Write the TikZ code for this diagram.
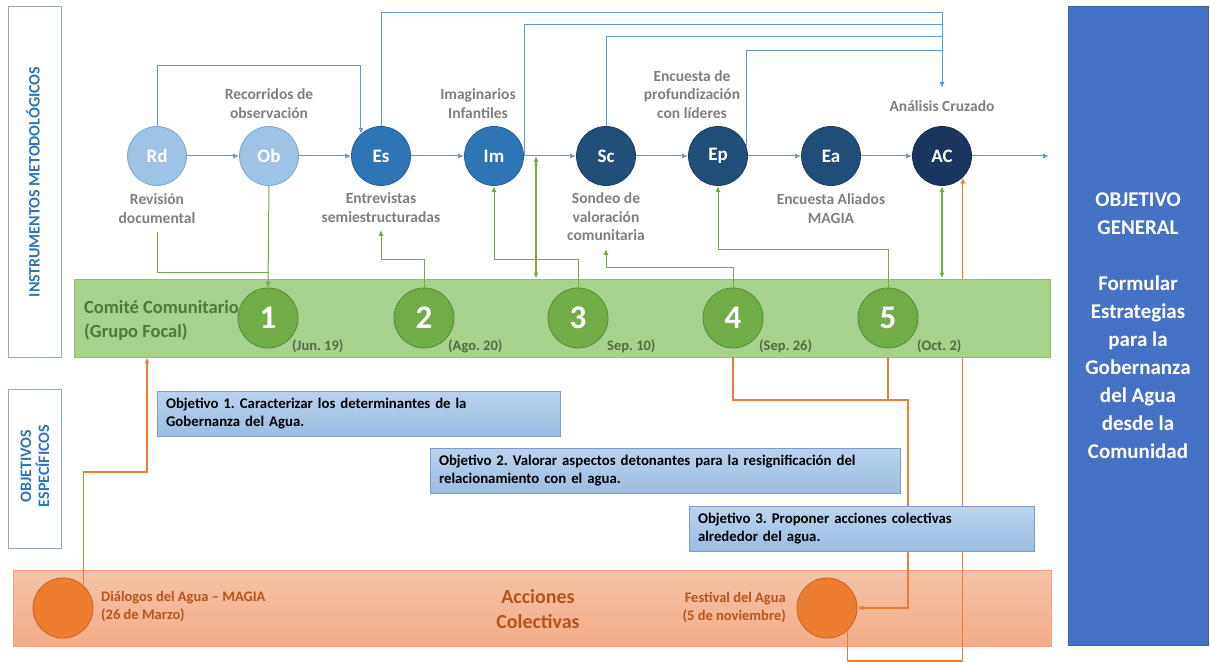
\documentclass[tikz,border=0pt]{standalone}
\usepackage{fontspec}
\setmainfont{Carlito}
\usetikzlibrary{arrows.meta}
\definecolor{cLine}{HTML}{5B9BD5}
\definecolor{cLight}{HTML}{9DC3E6}
\definecolor{cLightB}{HTML}{7FA8D2}
\definecolor{cMid}{HTML}{2E75B6}
\definecolor{cDark}{HTML}{1F4E79}
\definecolor{cNavy}{HTML}{1C355E}
\definecolor{cLbl}{HTML}{7F7F7F}
\definecolor{cGBand}{HTML}{A9D18E}
\definecolor{cGBandB}{HTML}{8CC06A}
\definecolor{cGCirc}{HTML}{70AD47}
\definecolor{cGCircB}{HTML}{558B35}
\definecolor{cGLine}{HTML}{70AD47}
\definecolor{cGText}{HTML}{4F7A32}
\definecolor{cDate}{HTML}{556B45}
\definecolor{cOBandT}{HTML}{F7C3A7}
\definecolor{cOBandB}{HTML}{F4AC87}
\definecolor{cOBandD}{HTML}{F0A07A}
\definecolor{cOCirc}{HTML}{ED7D31}
\definecolor{cOCircB}{HTML}{C9621E}
\definecolor{cOLine}{HTML}{ED7D31}
\definecolor{cOText}{HTML}{B4561C}
\definecolor{cObjT}{HTML}{BCD3EE}
\definecolor{cObjB}{HTML}{9BBCE2}
\definecolor{cObjD}{HTML}{7C9DC8}
\definecolor{cGen}{HTML}{4472C4}
\definecolor{cGenB}{HTML}{3A62A8}
\definecolor{cSide}{HTML}{8EA9C8}
\definecolor{cSideT}{HTML}{2E75B6}
\newcommand{\myfs}[2]{\fontsize{#1}{#2}\selectfont}
\frenchspacing
\begin{document}
\begin{tikzpicture}[x=1pt,y=-1pt,
  circ/.style={circle, inner sep=0pt, minimum size=59pt, line width=0.8pt, text=white, font=\bfseries\myfs{19}{19}},
  lbl/.style={text=cLbl, font=\bfseries\myfs{15.5}{18.5}, align=center, inner sep=1pt},
  gnum/.style={circle, fill=cGCirc, draw=cGCircB, line width=0.8pt, minimum size=60pt, inner sep=0pt, text=white, font=\bfseries\myfs{33}{33}},
  datet/.style={text=cDate, font=\bfseries\myfs{14.5}{14.5}, anchor=west, inner sep=0pt},
  sidebox/.style={draw=cSide, line width=0.8pt, fill=white, minimum width=53pt, inner sep=0pt},
  sidetext/.style={text=cSideT, font=\bfseries\myfs{16}{18}, align=center, rotate=90, inner sep=0pt},
  objbox/.style={draw=cObjD, line width=0.8pt, top color=cObjT, bottom color=cObjB, inner xsep=9pt, inner ysep=0pt, minimum height=45pt, align=left, font=\bfseries\myfs{14.8}{18}, text=black},
  ocirc/.style={circle, fill=cOCirc, draw=cOCircB, line width=0.8pt, minimum size=60pt, inner sep=0pt},
  otext/.style={text=cOText, font=\bfseries\myfs{14.5}{18}, inner sep=0pt},
  bline/.style={draw=cLine, line width=1pt},
  barr/.style={bline, -{Latex[length=6pt,width=5pt]}},
  gln/.style={draw=cGLine, line width=1pt},
  garr/.style={gln, -{Latex[length=6pt,width=5pt]}},
  gdbl/.style={draw=cGLine, line width=1.6pt, {Latex[length=6pt,width=5pt]}-{Latex[length=6pt,width=5pt]}},
  oln/.style={draw=cOLine, line width=1.4pt},
  oarr/.style={oln, -{Latex[length=6pt,width=5pt]}}
]
\useasboundingbox (0,0) rectangle (1210,663);
\fill[white] (0,0) rectangle (1210,663);

% level coordinates
\coordinate (L13) at (0,13);
\coordinate (L25) at (0,25);
\coordinate (L37) at (0,37);
\coordinate (L51) at (0,51);
\coordinate (L66) at (0,66);
\coordinate (L249) at (0,249);
\coordinate (L259) at (0,259);
\coordinate (L267) at (0,267);
\coordinate (L272) at (0,272);
\coordinate (L400) at (0,400);
\coordinate (L472) at (0,472);
\coordinate (L661) at (0,661);
\coordinate (X147) at (147,0);
\coordinate (X908) at (908,0);

% side boxes
\node[sidebox, minimum height=351pt] (instr) at (34.5,181.5) {};
\node[sidetext] (tInstr) at (33,182) {INSTRUMENTOS METODOLÓGICOS};
\node[sidebox, minimum height=159pt] (objesp) at (34.5,468.5) {};
\node[sidetext] (tObj) at (35,466) {OBJETIVOS\\ESPECÍFICOS};

% general objective
\node[draw=cGenB, fill=cGen, line width=0.8pt, minimum width=140pt, minimum height=639pt, inner sep=0pt,
      text=white, align=center, font=\bfseries\myfs{21}{28}] (gen) at (1138,325.5)
  {OBJETIVO\\GENERAL\\[28pt]Formular\\Estrategias\\para la\\Gobernanza\\del Agua\\desde la\\Comunidad};

% orange band
\node[draw=cOBandD, line width=0.8pt, top color=cOBandT, bottom color=cOBandB, minimum width=1038pt, minimum height=76pt, inner sep=0pt] (oband) at (532,608) {};
\node[ocirc] (o1) at (63,608) {};
\node[ocirc] (o2) at (827,608) {};
\node[otext, anchor=west, align=left] (to1) at (101,607) {Diálogos del Agua -- MAGIA\\(26 de Marzo)};
\node[otext, anchor=east, align=right] (to2) at (786,607) {Festival del Agua\\(5 de noviembre)};
\node[text=cOText, font=\bfseries\myfs{20}{25}, align=center, inner sep=0pt] (acc) at (538,609.5) {Acciones\\Colectivas};

% top row circles
\node[circ, fill=cLight, draw=cLightB] (Rd) at (157,156) {Rd};
\node[circ, fill=cLight, draw=cLightB] (Ob) at (269,156) {Ob};
\node[circ, fill=cMid, draw=cMid!80!black] (Es) at (381,156) {Es};
\node[circ, fill=cMid, draw=cMid!80!black] (Im) at (494,156) {Im};
\node[circ, fill=cDark, draw=cDark!80!black] (Sc) at (606,156) {Sc};
\node[circ, fill=cDark, draw=cDark!80!black] (Ep) at (718,156) {Ep};
\node[circ, fill=cDark, draw=cDark!80!black] (Ea) at (831,156) {Ea};
\node[circ, fill=cNavy, draw=cNavy!80!black] (AC) at (942,156) {AC};

% orange line festival -> AC (behind green band)
\draw[oarr] (o2.-48) |- (AC.-46 |- L661) -- (AC.-46);

% labels
\node[lbl] (lRd) at (157,208.5) {Revisión\\documental};
\node[lbl] (lOb) at (269,103.5) {Recorridos de\\observación};
\node[lbl] (lEs) at (381,207.5) {Entrevistas\\semiestructuradas};
\node[lbl] (lIm) at (478,103.5) {Imaginarios\\Infantiles};
\node[lbl] (lSc) at (606,217) {Sondeo de\\valoración\\comunitaria};
\node[lbl] (lEp) at (692,94.5) {Encuesta de\\profundización\\con líderes};
\node[lbl] (lEa) at (831,208.5) {Encuesta Aliados\\MAGIA};
\node[lbl] (lAC) at (942,106) {Análisis Cruzado};

% green band
\node[draw=cGBandB, fill=cGBand, line width=0.8pt, minimum width=976pt, minimum height=78pt, inner sep=0pt] (gband) at (562,318) {};
\node[text=cGText, font=\bfseries\myfs{18.5}{24}, align=left, anchor=west, inner sep=0pt] (comite) at (84,320) {Comité Comunitario\\(Grupo Focal)};
\node[gnum] (g1) at (268,318) {1};
\node[gnum] (g2) at (424,318) {2};
\node[gnum] (g3) at (578,318) {3};
\node[gnum] (g4) at (733,318) {4};
\node[gnum] (g5) at (888,318) {5};
\node[datet] (d1) at (292,346) {(Jun. 19)};
\node[datet] (d2) at (448,346) {(Ago. 20)};
\node[datet] (d3) at (607,346) {Sep. 10)};
\node[datet] (d4) at (759,346) {(Sep. 26)};
\node[datet] (d5) at (917,346) {(Oct. 2)};

% coordinates for free ends
\coordinate (acIn) at (942,88);
\coordinate (jIm) at (524,156);
\coordinate (jG) at (536,156);
\coordinate (out) at (1049,156);
\coordinate (tEs) at (381,230);
\coordinate (tSc) at (606,249);
\coordinate (tRd) at (157,232);

% main blue flow
\draw[barr] (Rd) -- (Ob);
\draw[barr] (Ob) -- (Es);
\draw[barr] (Es) -- (Im);
\draw[barr] (Im) -- (Sc);
\draw[barr] (Sc) -- (Ep);
\draw[barr] (Ep) -- (Ea);
\draw[barr] (Ea) -- (AC);
\draw[barr] (AC) -- (out);

% blue feedback lines
\draw[barr] (Rd.north) |- (Es.132 |- L66) -- (Es.132);
\draw[barr] (Es.north) |- (acIn |- L13) -- (acIn);
\draw[bline] (jIm) |- (acIn |- L25);
\draw[bline] (Sc.north) |- (acIn |- L37);
\draw[bline] (Ep.20) |- (acIn |- L51);

% green connectors
\draw[garr] (Ob.south) -- (g1.north);
\draw[gln] (tRd) |- (Ob.south |- L272);
\draw[garr] (g2.north) |- (tEs |- L259) -- (tEs);
\draw[garr] (g3.north) |- (Im.south |- L259) -- (Im.south);
\draw[gdbl] (jG) -- (jG |- gband.north);
\draw[garr] (g4.north) |- (tSc |- L267) -- (tSc);
\draw[garr] (g5.north) |- (Ep.south |- L249) -- (Ep.south);
\draw[gdbl] (AC.south) -- (AC.south |- gband.north);

% orange connectors
\draw[oarr] (o1.48) |- (X147 |- L472) -- (X147 |- gband.south);
\draw[oarr] (g4.south |- gband.south) |- (X908 |- L400) |- (o2.east);
\draw[oln] (g5.south |- gband.south) -- (g5.south |- L400);

% objective boxes
\node[objbox, text width=385pt] (ob1) at (358.5,413.5) {Objetivo 1. Caracterizar los determinantes de la\\Gobernanza del Agua.};
\node[objbox, text width=452pt] (ob2) at (665,470.5) {Objetivo 2. Valorar aspectos detonantes para la resignificación del\\relacionamiento con el agua.};
\node[objbox, text width=327pt] (ob3) at (861.5,529) {Objetivo 3. Proponer acciones colectivas\\alrededor del agua.};
\end{tikzpicture}
\end{document}
